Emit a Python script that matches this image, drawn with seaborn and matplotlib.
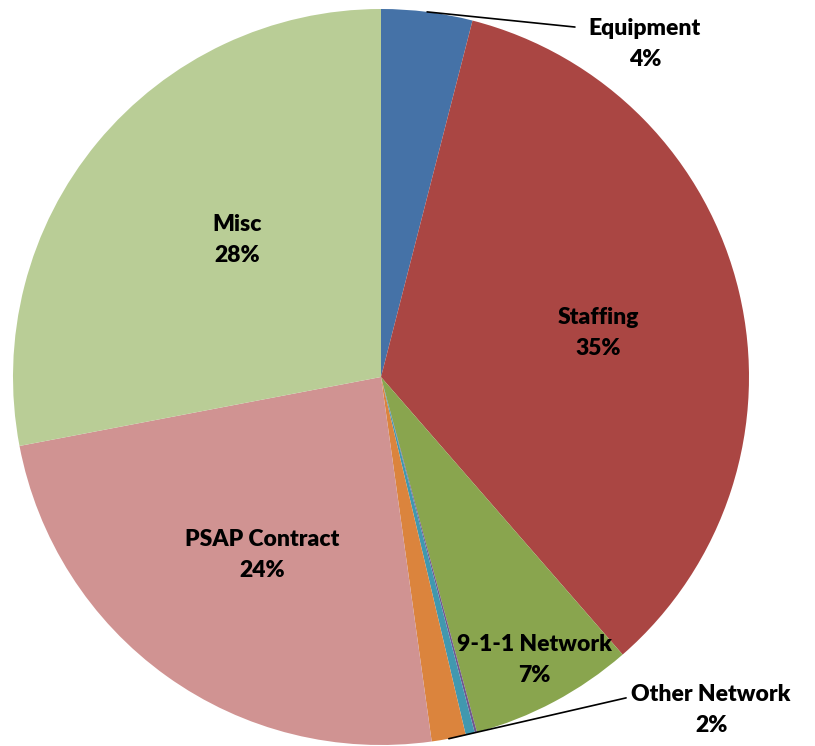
import numpy as np
import matplotlib
matplotlib.use("Agg")
import matplotlib.pyplot as plt
import seaborn as sns

# Данные круговой диаграммы (по часовой стрелке от 12 часов)
categories = ["Equipment", "Staffing", "9-1-1 Network", "", "", "Other Network",
              "PSAP Contract", "Misc"]
values = [4.0, 34.6, 7.2, 0.1, 0.4, 1.5, 24.2, 28.0]
pct_labels = ["4%", "35%", "7%", "", "", "2%", "24%", "28%"]

colors = ["#4572A7", "#AA4643", "#89A54E", "#71588F", "#4198AF", "#DB843D",
          "#D09392", "#B9CD96"]

sns.set_theme(style="white")
plt.rcParams["font.family"] = ["Lato", "DejaVu Sans"]

fig = plt.figure(figsize=(8.15, 7.46), dpi=100)
ax = fig.add_axes([13 / 815, 1 / 746, 736 / 815, 736 / 746])

wedges, _ = ax.pie(values, colors=colors, startangle=90, counterclock=False,
                   radius=1.0, wedgeprops=dict(linewidth=0))
ax.set_xlim(-1, 1)
ax.set_ylim(-1, 1)
ax.set_aspect("equal")
ax.axis("off")

# Подписи внутри секторов
inside = {"Misc": (-0.391, 0.372), "Staffing": (0.590, 0.120),
          "PSAP Contract": (-0.323, -0.484), "9-1-1 Network": (0.416, -0.769)}
# Подписи снаружи с выносными линиями: (позиция текста, конец линии)
outside = {"Equipment": ((0.717, 0.905), (0.527, 0.951)),
           "Other Network": ((0.897, -0.905), (0.666, -0.872))}

style = dict(ha="center", va="center", fontsize=16.5, fontweight="heavy",
             color="black", linespacing=1.6)

for w, name, pct in zip(wedges, categories, pct_labels):
    if not name:
        continue
    text = f"{name}\n{pct}"
    if name in inside:
        x, y = inside[name]
        ax.text(x, y, text, **style)
    else:
        (tx, ty), (lx, ly) = outside[name]
        mid = np.deg2rad((w.theta1 + w.theta2) / 2)
        ax.plot([np.cos(mid), lx], [np.sin(mid), ly], color="black", lw=1.2,
                clip_on=False)
        ax.text(tx, ty, text, clip_on=False, **style)

plt.savefig("out.png", dpi=100)
